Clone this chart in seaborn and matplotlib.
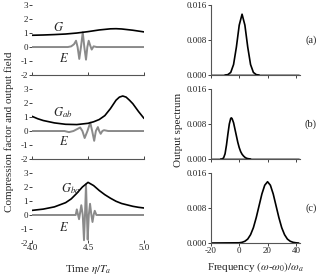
import numpy as np
import seaborn as sns
import matplotlib.pyplot as plt

# ---- data ----
# left column: compression factor G and output field E versus time
t_g = [4.0, 4.1, 4.2, 4.3, 4.4, 4.5, 4.6, 4.7, 4.75, 4.8, 4.9, 5.0]
g_a = [0.84, 0.86, 0.89, 0.93, 1.0, 1.1, 1.22, 1.30, 1.31, 1.29, 1.2, 1.08]

t_gab = [4.0, 4.05, 4.1, 4.2, 4.3, 4.4, 4.5, 4.55, 4.6, 4.65, 4.7, 4.75, 4.78, 4.81,
         4.84, 4.87, 4.9, 4.95, 5.0]
g_ab = [1.05, 0.88, 0.75, 0.58, 0.48, 0.46, 0.55, 0.66, 0.82, 1.1, 1.6, 2.2, 2.42, 2.5,
        2.42, 2.2, 1.95, 1.4, 0.9]

t_gba = [4.0, 4.1, 4.2, 4.3, 4.35, 4.4, 4.45, 4.5, 4.55, 4.6, 4.65, 4.7, 4.75, 4.8,
         4.85, 4.9, 4.95, 5.0]
g_ba = [0.33, 0.42, 0.58, 0.88, 1.15, 1.55, 2.0, 2.33, 2.1, 1.75, 1.45, 1.2, 0.98,
        0.82, 0.72, 0.62, 0.55, 0.5]

t_ea = [4.0, 4.32, 4.35, 4.375, 4.393, 4.407, 4.422, 4.437, 4.453, 4.467, 4.482,
        4.494, 4.506, 4.52, 4.533, 4.55, 4.578, 5.0]
e_a = [0, 0, 0.05, 0.2, 0.45, 0, -0.85, 0, 1.05, 0, -0.9, 0, 0.45, 0.1, -0.18, 0.05, 0, 0]

t_eb = [4.0, 4.29, 4.33, 4.37, 4.43, 4.45, 4.47, 4.495, 4.52, 4.537, 4.555, 4.57,
        4.588, 4.6, 4.613, 4.628, 4.643, 4.68, 5.0]
e_b = [0, 0, -0.08, 0, 0.25, 0, -0.5, 0, 0.6, 0, -0.7, 0, 0.28, 0, -0.2, 0, 0.06, 0, 0]

t_ec = [4.0, 4.39, 4.40, 4.42, 4.44, 4.453, 4.464, 4.473, 4.482, 4.49, 4.497, 4.507,
        4.518, 4.53, 4.54, 4.55, 4.56, 4.575, 5.0]
e_c = [0, 0, 0.4, -0.3, 0.7, 0, -1.8, 0, 2.2, 0, -1.75, 0, 0.8, 0, -0.5, 0, 0.3, 0, 0]

# right column: output spectra
f_a = [-10, -8, -6, -4, -2, 0, 2, 4, 6, 8, 10, 12, 14]
s_a = [0, 0.0001, 0.0006, 0.0024, 0.0064, 0.0114, 0.0139, 0.0114, 0.0064, 0.0024,
       0.0006, 0.0001, 0]

f_b = [-13, -12, -11, -10, -9, -8, -7, -6, -5.5, -5, -4, -3, -2, -1, 0, 1, 2, 3, 4,
       5, 6, 8]
s_b = [0, 0, 0.0003, 0.0012, 0.0032, 0.0057, 0.0080, 0.0093, 0.0094, 0.0092, 0.0083,
       0.0068, 0.0053, 0.0038, 0.0026, 0.0017, 0.0011, 0.0007, 0.0004, 0.0002, 0.0001, 0]

f_c = [-20, 0, 2, 4, 6, 8, 10, 12, 14, 16, 18, 20, 22, 24, 26, 28, 30, 32, 34, 36,
       38, 40, 42]
s_c = [0, 0.00005, 0.00016, 0.0004, 0.0009, 0.0019, 0.0035, 0.0058, 0.0085, 0.0112,
       0.0132, 0.0140, 0.0132, 0.0112, 0.0085, 0.0058, 0.0035, 0.0019, 0.0009, 0.0004,
       0.00016, 0.00005, 0]

g_labels = [r'$G$', r'$G_{ab}$', r'$G_{ba}$']
g_label_pos = [(4.19, 1.4), (4.19, 1.35), (4.26, 1.86)]
e_label_pos = [(4.24, -0.85), (4.24, -0.78), (4.24, -0.92)]
panel_tags = ['(a)', '(b)', '(c)']

# ---- style ----
sns.set_style('ticks')
plt.rcParams['font.family'] = ['Liberation Serif', 'DejaVu Serif']
plt.rcParams['mathtext.fontset'] = 'stix'
plt.rcParams['axes.unicode_minus'] = False
plt.rcParams['font.size'] = 7

fig = plt.figure(figsize=(3.21, 2.79), dpi=100)

bottoms = [0.731, 0.430, 0.129]
height = 0.251
g_t = [t_g, t_gab, t_gba]
g_v = [g_a, g_ab, g_ba]
e_t = [t_ea, t_eb, t_ec]
e_v = [e_a, e_b, e_c]
f_all = [f_a, f_b, f_c]
s_all = [s_a, s_b, s_c]

for i in range(3):
    # left panel
    ax = fig.add_axes([0.0997, bottoms[i], 0.349, height])
    sns.lineplot(x=e_t[i], y=e_v[i], ax=ax, color='#8a8a8a', lw=1.4)
    sns.lineplot(x=g_t[i], y=g_v[i], ax=ax, color='black', lw=1.2)
    ax.set_xlim(4.0, 5.0)
    ax.set_ylim(-2, 3)
    ax.set_yticks([-2, -1, 0, 1, 2, 3])
    ax.set_yticklabels(['-2', '-1', '0', '1', '2', '3'])
    ax.set_xticks([4.0, 4.5, 5.0])
    if i == 2:
        ax.set_xticklabels(['4.0', '4.5', '5.0'])
        ax.spines['bottom'].set_visible(False)
    else:
        ax.set_xticklabels([])
    for s in ['top', 'right', 'left']:
        ax.spines[s].set_visible(False)
    ax.spines['bottom'].set_color('#555555')
    ax.spines['bottom'].set_linewidth(0.8)
    ax.tick_params(axis='both', length=2, width=0.6, pad=1, labelsize=6.5,
                   colors='#222222')
    ax.tick_params(axis='x', direction='in')
    ax.text(*g_label_pos[i], g_labels[i], fontsize=9, ha='left', va='center')
    ax.text(*e_label_pos[i], r'$E$', fontsize=9, ha='left', va='center')

    # right panel
    ax2 = fig.add_axes([0.657, bottoms[i], 0.278, height])
    if i < 2:
        sns.lineplot(x=[-20, 42], y=[0, 0], ax=ax2, color='#8a8a8a', lw=1.2)
    sns.lineplot(x=f_all[i], y=s_all[i], ax=ax2, color='black', lw=1.2)
    ax2.set_xlim(-20, 43)
    ax2.set_ylim(0, 0.016)
    ax2.set_yticks([0, 0.008, 0.016])
    ax2.set_yticklabels(['0.000', '0.008', '0.016'])
    ax2.set_xticks([-20, 0, 20, 40])
    if i == 2:
        ax2.set_xticklabels(['-20', '0', '20', '40'])
    else:
        ax2.set_xticklabels([])
    for s in ['top', 'right']:
        ax2.spines[s].set_visible(False)
    for s in ['left', 'bottom']:
        ax2.spines[s].set_color('#555555')
        ax2.spines[s].set_linewidth(0.8)
    ax2.tick_params(axis='both', length=2, width=0.6, pad=1, labelsize=6.5,
                    colors='#222222')
    ax2.text(1.12, 0.5, panel_tags[i], transform=ax2.transAxes, fontsize=7.5,
             ha='center', va='center')

fig.text(0.027, 0.527, 'Compression factor and output field', rotation=90,
         ha='center', va='center', fontsize=8)
fig.text(0.555, 0.534, 'Output spectrum', rotation=90, ha='center', va='center',
         fontsize=8)
fig.text(0.274, 0.033, r'Time $\eta/T_a$', ha='center', va='center', fontsize=8)
fig.text(0.795, 0.043, r'Frequency $(\omega$-$\omega_0)/\omega_a$', ha='center',
         va='center', fontsize=8)

fig.savefig('out.png', dpi=100)
